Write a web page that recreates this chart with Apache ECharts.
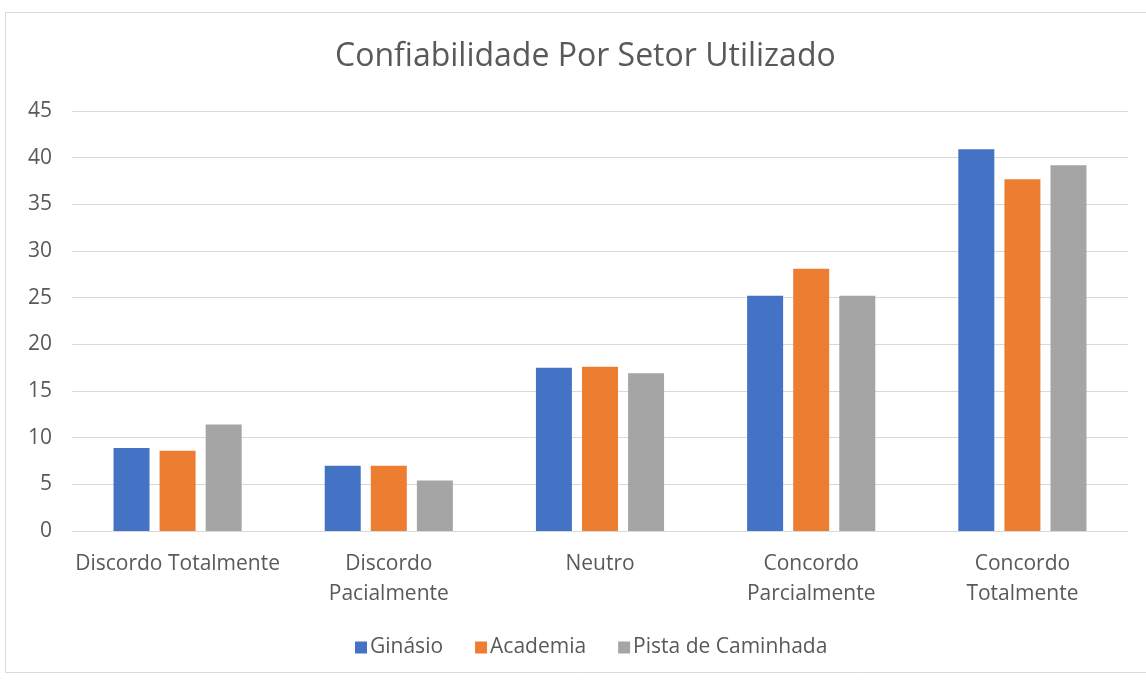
<!DOCTYPE html>
<html>
<head>
<meta charset="utf-8">
<script src="https://cdn.jsdelivr.net/npm/echarts@6/dist/echarts.min.js"></script>
<style>
  html, body { margin: 0; padding: 0; background: #ffffff; }
  #chart { width: 1146px; height: 680px; }
</style>
</head>
<body>
<div id="chart"></div>
<script>
// Response categories (axis labels wrap like the original layout)
const categories = [
  'Discordo Totalmente',
  'Discordo\nPacialmente',
  'Neutro',
  'Concordo\nParcialmente',
  'Concordo\nTotalmente'
];

// Percentages per sector
const ginasio  = [8.9, 7.0, 17.5, 25.2, 40.9];
const academia = [8.6, 7.0, 17.6, 28.1, 37.7];
const pista    = [11.4, 5.4, 16.9, 25.2, 39.2];

const seriesNames = ['Ginásio', 'Academia', 'Pista de Caminhada'];
const seriesColors = ['#4472C4', '#ED7D31', '#A5A5A5'];
const yTicks = { min: 0, max: 45, interval: 5 };

const textColor = '#595959';
const fontFamily = '"Open Sans", "Noto Sans", sans-serif';

const chart = echarts.init(document.getElementById('chart'), null, { renderer: 'canvas' });

const seriesData = [ginasio, academia, pista];

chart.setOption({
  backgroundColor: '#ffffff',
  animation: false,
  textStyle: { fontFamily: fontFamily },
  graphic: [{
    type: 'rect',
    shape: { x: 5.5, y: 12.5, width: 1150, height: 660 },
    style: { fill: 'none', stroke: '#D9D9D9', lineWidth: 1 },
    silent: true
  }],
  title: {
    text: 'Confiabilidade Por Setor Utilizado',
    left: 330,
    top: 36,
    textStyle: { color: textColor, fontSize: 32, fontWeight: 'normal', fontFamily: fontFamily }
  },
  legend: {
    top: 632,
    left: 350,
    itemWidth: 12,
    itemHeight: 12,
    itemGap: 32,
    icon: 'rect',
    textStyle: { color: textColor, fontSize: 21, fontFamily: fontFamily, padding: [0, 0, 0, -2] },
    data: seriesNames
  },
  grid: { left: 72, right: 18, top: 111, bottom: 149, containLabel: false },
  xAxis: {
    type: 'category',
    data: categories,
    axisTick: { show: false },
    axisLine: { lineStyle: { color: '#D9D9D9', width: 1 } },
    axisLabel: { color: textColor, fontSize: 21, margin: 18, lineHeight: 30, fontFamily: fontFamily, interval: 0 }
  },
  yAxis: {
    type: 'value',
    min: yTicks.min,
    max: yTicks.max,
    interval: yTicks.interval,
    axisLine: { show: false },
    axisTick: { show: false },
    axisLabel: { color: textColor, fontSize: 21, margin: 20, fontFamily: fontFamily },
    splitLine: { lineStyle: { color: '#D9D9D9', width: 1 } }
  },
  series: seriesNames.map((name, i) => ({
    name: name,
    type: 'bar',
    data: seriesData[i],
    barWidth: 36,
    barGap: '28%',
    itemStyle: { color: seriesColors[i] }
  }))
});
</script>
</body>
</html>
